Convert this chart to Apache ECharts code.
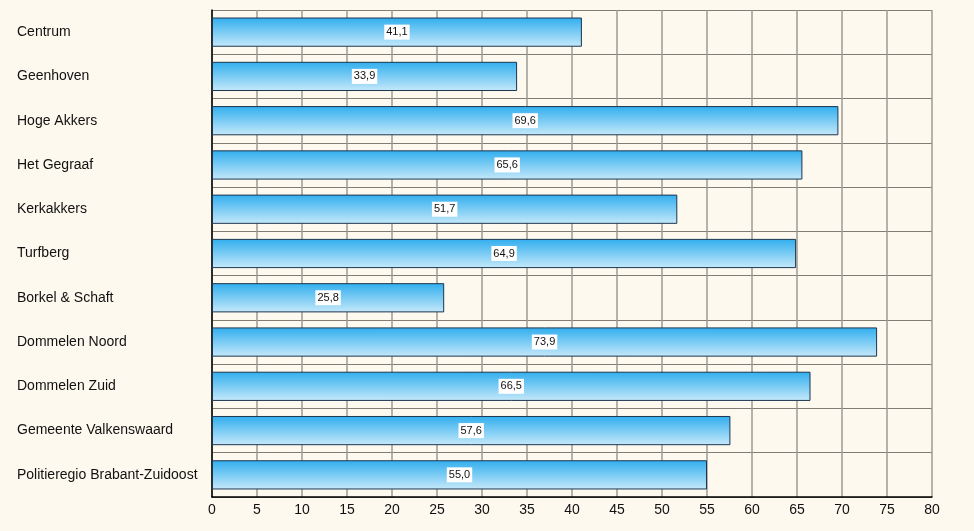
<!DOCTYPE html>
<html>
<head>
<meta charset="utf-8">
<script src="https://cdn.jsdelivr.net/npm/echarts@6/dist/echarts.min.js"></script>
<style>
  html, body { margin: 0; padding: 0; background: #fdf9ee; }
  #chart { width: 974px; height: 531px; }
</style>
</head>
<body>
<div id="chart"></div>
<script>
let categories = [
  "Centrum", "Geenhoven", "Hoge Akkers", "Het Gegraaf", "Kerkakkers",
  "Turfberg", "Borkel & Schaft", "Dommelen Noord", "Dommelen Zuid",
  "Gemeente Valkenswaard", "Politieregio Brabant-Zuidoost"
];
let values = [41.1, 33.9, 69.6, 65.6, 51.7, 64.9, 25.8, 73.9, 66.5, 57.6, 55.0];

let myChart = echarts.init(document.getElementById("chart"));

myChart.setOption({
  backgroundColor: "#fdf9ee",
  animation: false,
  textStyle: { fontFamily: "Liberation Sans, Arial, sans-serif" },
  grid: { left: 212, right: 42, top: 10, bottom: 34 },
  xAxis: {
    type: "value",
    min: 0,
    max: 80,
    interval: 5,
    axisLine: { show: true, lineStyle: { color: "#000", width: 1.5 } },
    axisTick: { show: false },
    axisLabel: { color: "#111", fontSize: 14, margin: 6 },
    splitLine: { show: true, lineStyle: { color: "#9c9a92", width: 1.5 } }
  },
  yAxis: {
    type: "category",
    data: categories,
    inverse: true,
    axisLine: { show: true, lineStyle: { color: "#000", width: 1.5 } },
    axisTick: { show: false },
    axisLabel: { color: "#111", fontSize: 14, align: "left", margin: 195 },
    splitLine: { show: true, lineStyle: { color: "#7f7d76", width: 1 } }
  },
  series: [
    {
      type: "bar",
      data: values,
      barWidth: "66%",
      itemStyle: {
        borderColor: "#1d3550",
        borderWidth: 1,
        color: new echarts.graphic.LinearGradient(0, 0, 0, 1, [
          { offset: 0, color: "#30aeee" },
          { offset: 1, color: "#c6e9fa" }
        ])
      },
      label: {
        show: true,
        position: "inside",
        color: "#111",
        fontSize: 11,
        backgroundColor: "#ffffff",
        padding: [2, 2],
        formatter: (p) => p.value.toFixed(1).replace(".", ",")
      }
    }
  ]
});
</script>
</body>
</html>
